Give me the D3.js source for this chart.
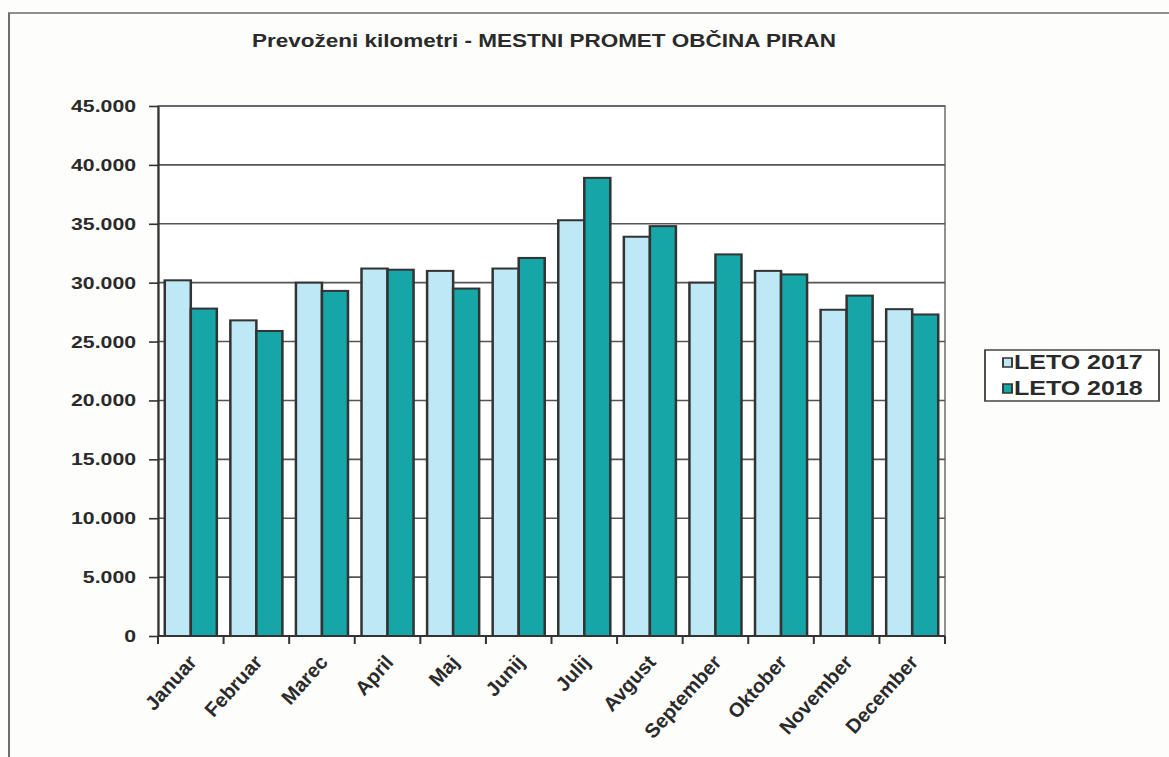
<!DOCTYPE html>
<html>
<head>
<meta charset="utf-8">
<script src="https://cdn.jsdelivr.net/npm/d3@7"></script>
<style>
  html, body { margin: 0; padding: 0; background: #fdfdfc; }
  svg { display: block; }
  text { font-family: "Liberation Sans", Arial, sans-serif; font-weight: bold; fill: #2a2a2a; }
</style>
</head>
<body>
<svg id="chart" width="1169" height="757"></svg>
<script>
// data
const months = ["Januar", "Februar", "Marec", "April", "Maj", "Junij", "Julij", "Avgust", "September", "Oktober", "November", "December"];
const seriesNames = ["LETO 2017", "LETO 2018"];
const values2017 = [30200, 26800, 30000, 31200, 31000, 31200, 35300, 33900, 30000, 31000, 27700, 27750];
const values2018 = [27800, 25900, 29300, 31100, 29500, 32100, 38900, 34800, 32400, 30700, 28900, 27300];
const yTicks = [0, 5000, 10000, 15000, 20000, 25000, 30000, 35000, 40000, 45000];
const colors = ["#bde8f5", "#16a6a8"];

// the scan is stretched horizontally, so most of it is drawn in a scaled group
const S = 1.25;
const width = 1169;
const height = 757;
const plotLeft = 158, plotRight = 945, plotTop = 106, plotBottom = 636;

let svg = d3.select("#chart");
let g = svg.append("g").attr("transform", "scale(" + S + ",1)");

let fmt = d3.formatLocale({decimal: ",", thousands: ".", grouping: [3], currency: ["", " €"]}).format(",d");

let x = d3.scaleBand()
  .domain(months)
  .range([plotLeft / S, plotRight / S])
  .padding(0);

let xs = d3.scaleBand()
  .domain(seriesNames)
  .range([0, x.bandwidth()])
  .paddingInner(0)
  .paddingOuter(0.26);

let y = d3.scaleLinear()
  .domain([0, 45000])
  .range([plotBottom, plotTop]);

// outer chart border (runs off the page right and bottom)
g.append("path")
  .attr("d", "M" + (9 / S) + "," + height + " V13 H" + (width / S + 5))
  .attr("fill", "none")
  .attr("stroke", "#6e6e6e")
  .attr("stroke-width", 1.6);

// plot area
g.append("rect")
  .attr("x", plotLeft / S)
  .attr("y", plotTop)
  .attr("width", (plotRight - plotLeft) / S)
  .attr("height", plotBottom - plotTop)
  .attr("fill", "#ffffff")
  .attr("stroke", "#8a8a8a")
  .attr("stroke-width", 1.5);

// gridlines
g.selectAll(".grid")
  .data(yTicks.filter(d => d > 0))
  .join("line")
  .attr("class", "grid")
  .attr("x1", plotLeft / S)
  .attr("x2", plotRight / S)
  .attr("y1", d => y(d))
  .attr("y2", d => y(d))
  .attr("stroke", "#555")
  .attr("stroke-width", 1.6);

// bars
let rows = months.map((m, i) => ({month: m, vals: [values2017[i], values2018[i]]}));

let groups = g.selectAll(".month")
  .data(rows)
  .join("g")
  .attr("class", "month")
  .attr("transform", d => "translate(" + x(d.month) + ",0)");

groups.selectAll("rect")
  .data(d => d.vals.map((v, k) => ({name: seriesNames[k], value: v, k: k})))
  .join("rect")
  .attr("x", d => xs(d.name))
  .attr("y", d => y(d.value))
  .attr("width", xs.bandwidth())
  .attr("height", d => y(0) - y(d.value))
  .attr("fill", d => colors[d.k])
  .attr("stroke", "#333")
  .attr("stroke-width", 2);

// y axis
let yAxis = g.append("g")
  .attr("transform", "translate(" + (plotLeft / S) + ",0)")
  .call(d3.axisLeft(y)
    .tickValues(yTicks)
    .tickFormat(fmt)
    .tickSize(9 / S)
    .tickSizeOuter(0)
    .tickPadding(13 / S));
yAxis.select(".domain").attr("stroke", "#333").attr("stroke-width", 1.6);
yAxis.selectAll(".tick line").attr("stroke", "#333").attr("stroke-width", 1.6);
yAxis.selectAll(".tick text")
  .attr("font-size", 17)
  .attr("font-family", "Liberation Sans, Arial, sans-serif")
  .attr("font-weight", "bold")
  .attr("fill", "#2a2a2a");

// x axis line and ticks at band edges
g.append("line")
  .attr("x1", plotLeft / S)
  .attr("x2", plotRight / S)
  .attr("y1", plotBottom)
  .attr("y2", plotBottom)
  .attr("stroke", "#333")
  .attr("stroke-width", 2);

g.selectAll(".xtick")
  .data(d3.range(months.length + 1))
  .join("line")
  .attr("class", "xtick")
  .attr("x1", i => x.range()[0] + i * x.step())
  .attr("x2", i => x.range()[0] + i * x.step())
  .attr("y1", plotBottom)
  .attr("y2", plotBottom + 8)
  .attr("stroke", "#333")
  .attr("stroke-width", 1.6);

// month labels drawn unscaled, so the glyphs are not sheared
svg.selectAll(".xlabel")
  .data(months)
  .join("text")
  .attr("class", "xlabel")
  .attr("text-anchor", "end")
  .attr("font-size", 20)
  .attr("transform", d => "translate(" + ((x(d) + x.bandwidth() / 2) * S + 7) + "," + (plotBottom + 27) + ") rotate(-48)")
  .text(d => d);

// title
g.append("text")
  .attr("x", 544 / S)
  .attr("y", 47)
  .attr("text-anchor", "middle")
  .attr("font-size", 18)
  .text("Prevoženi kilometri - MESTNI PROMET OBČINA PIRAN");

// legend
let legend = g.append("g");
legend.append("rect")
  .attr("x", 985 / S)
  .attr("y", 350)
  .attr("width", 174 / S)
  .attr("height", 51)
  .attr("fill", "#ffffff")
  .attr("stroke", "#444")
  .attr("stroke-width", 1.5);

seriesNames.forEach((name, k) => {
  let ly = 369 + k * 26;
  legend.append("rect")
    .attr("x", 1003 / S)
    .attr("y", ly - 11)
    .attr("width", 9 / S)
    .attr("height", 9)
    .attr("fill", colors[k])
    .attr("stroke", "#333")
    .attr("stroke-width", 1.5);
  legend.append("text")
    .attr("x", 1014 / S)
    .attr("y", ly)
    .attr("font-size", 20)
    .text(name);
});
</script>
</body>
</html>
